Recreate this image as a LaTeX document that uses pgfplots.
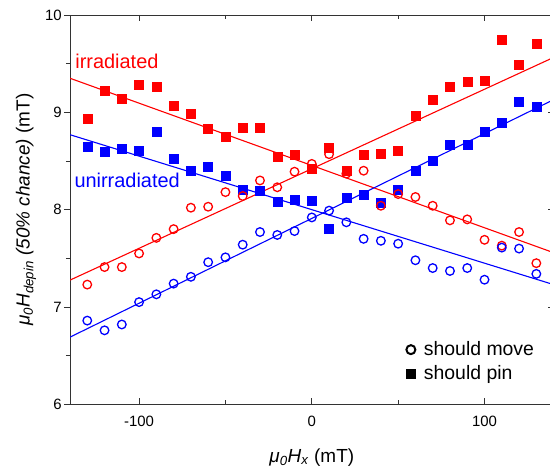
\documentclass[border=0pt]{standalone}
\usepackage{fontspec}
\setmainfont{Liberation Sans}
\usepackage{pgfplots}
\usepackage{pgfplotstable}
\pgfplotsset{compat=1.18}
\definecolor{myred}{RGB}{255,0,0}
\definecolor{myblue}{RGB}{0,0,255}
\pgfplotstableread{
x y
-130 8.93
-120 9.22
-110 9.14
-100 9.28
-90 9.26
-80 9.07
-70 8.99
-60 8.83
-50 8.75
-40 8.84
-30 8.84
-20 8.54
-10 8.56
0 8.42
10 8.64
20 8.40
30 8.56
40 8.58
50 8.61
60 8.97
70 9.13
80 9.26
90 9.31
100 9.33
110 9.75
120 9.49
130 9.70
}\redpin
\pgfplotstableread{
x y
-130 8.65
-120 8.60
-110 8.63
-100 8.61
-90 8.80
-80 8.52
-70 8.40
-60 8.44
-50 8.35
-40 8.20
-30 8.19
-20 8.08
-10 8.10
0 8.09
10 7.80
20 8.12
30 8.15
40 8.07
50 8.21
60 8.40
70 8.50
80 8.67
90 8.67
100 8.80
110 8.89
120 9.11
130 9.06
}\bluepin
\pgfplotstableread{
x y
-130 7.23
-120 7.41
-110 7.41
-100 7.55
-90 7.71
-80 7.80
-70 8.02
-60 8.03
-50 8.18
-40 8.14
-30 8.30
-20 8.23
-10 8.39
0 8.47
10 8.57
20 8.37
30 8.40
40 8.04
50 8.16
60 8.13
70 8.04
80 7.89
90 7.90
100 7.69
110 7.63
120 7.77
130 7.45
}\redmove
\pgfplotstableread{
x y
-130 6.86
-120 6.76
-110 6.82
-100 7.05
-90 7.13
-80 7.24
-70 7.31
-60 7.46
-50 7.51
-40 7.64
-30 7.77
-20 7.74
-10 7.78
0 7.92
10 7.99
20 7.87
30 7.70
40 7.68
50 7.65
60 7.48
70 7.40
80 7.37
90 7.40
100 7.28
110 7.61
120 7.60
130 7.34
}\bluemove
\begin{document}
\begin{tikzpicture}
\useasboundingbox (-70bp,-64.7bp) rectangle (480bp,404.3bp);
\pgfplotsset{
  common/.style={
    at={(0,0)}, anchor=south west,
    scale only axis, width=483.6bp, height=389.3bp,
    xmin=-140, xmax=140, ymin=6, ymax=10,
    axis line style={line width=0.9bp, black!80},
    major tick length=6bp, minor tick length=4bp,
    tick style={line width=0.8bp, black!80},
  }
}
% left axis: y ticks outside with labels
\begin{axis}[common,
  xtick=\empty,
  ytick={6,7,8,9,10}, yticklabels={6,7,8,9,10},
  minor ytick={6.5,7.5,8.5,9.5},
  ytick pos=left, tick align=outside,
  yticklabel style={font=\fontsize{15}{15}\selectfont, inner xsep=0pt, xshift=-2bp},
  ylabel={\textit{μ}\textsubscript{\textit{0}}\textit{H}\textsubscript{\textit{depin}} \textit{(50\% chance)} (mT)},
  ylabel style={font=\fontsize{19}{19}\selectfont, at={(axis description cs:-0.091,0.5)}, anchor=center},
]
\end{axis}
\begin{axis}[common,
  xtick={-100,0,100}, xticklabels={-100,0,100},
  minor xtick={-50,50},
  xtick pos=both, ytick pos=right, tick align=inside,
  ytick={6,7,8,9,10}, yticklabels={},
  minor ytick={6.5,7.5,8.5,9.5},
  xticklabel style={font=\fontsize{15}{15}\selectfont, anchor=center, yshift=-16.7bp},
  xlabel={\textit{μ}\textsubscript{\textit{0}}\textit{H}\textsubscript{\textit{x}} (mT)},
  xlabel style={font=\fontsize{19}{19}\selectfont, at={(axis description cs:0.5,0)}, anchor=center, yshift=-53bp},
  legend style={at={(0.69,0.166)}, anchor=north west, draw=none, fill=none,
    font=\fontsize{19.5}{19.5}\selectfont, row sep=6bp, inner sep=1bp,
    nodes={inner xsep=2bp, inner ysep=1bp}},
  legend cell align=left,
  legend image code/.code={\draw[#1] plot coordinates {(0bp,0bp)}; \path (-5bp,0bp) (10bp,0bp);},
]
\addplot[myred, line width=1.1bp, forget plot] coordinates {(-140,9.35) (140,7.558)};
\addplot[myred, line width=1.1bp, forget plot] coordinates {(-140,7.276) (140,9.564)};
\addplot[myblue, line width=1.1bp, forget plot] coordinates {(-140,8.77) (140,7.23)};
\addplot[myblue, line width=1.1bp, forget plot] coordinates {(-140,6.69) (140,9.13)};
\addplot[only marks, mark=square*, mark size=4.5bp, myred, forget plot] table {\redpin};
\addplot[only marks, mark=square*, mark size=4.5bp, myblue, forget plot] table {\bluepin};
\addplot[only marks, mark=o, mark size=4.3bp, line width=1.3bp, myred, forget plot] table {\redmove};
\addplot[only marks, mark=o, mark size=4.3bp, line width=1.3bp, myblue, forget plot] table {\bluemove};
\node[anchor=west, text=myred, font=\fontsize{20}{20}\selectfont, inner sep=0pt] at (axis cs:-137,9.52) {irradiated};
\node[anchor=west, text=myblue, font=\fontsize{20}{20}\selectfont, inner sep=0pt] at (axis cs:-137.5,8.30) {unirradiated};
\addlegendimage{only marks, mark=o, mark size=4.5bp, line width=2bp, black}
\addlegendentry{should move}
\addlegendimage{only marks, mark=square*, mark size=4.5bp, black}
\addlegendentry{should pin}
\end{axis}
\end{tikzpicture}
\end{document}
